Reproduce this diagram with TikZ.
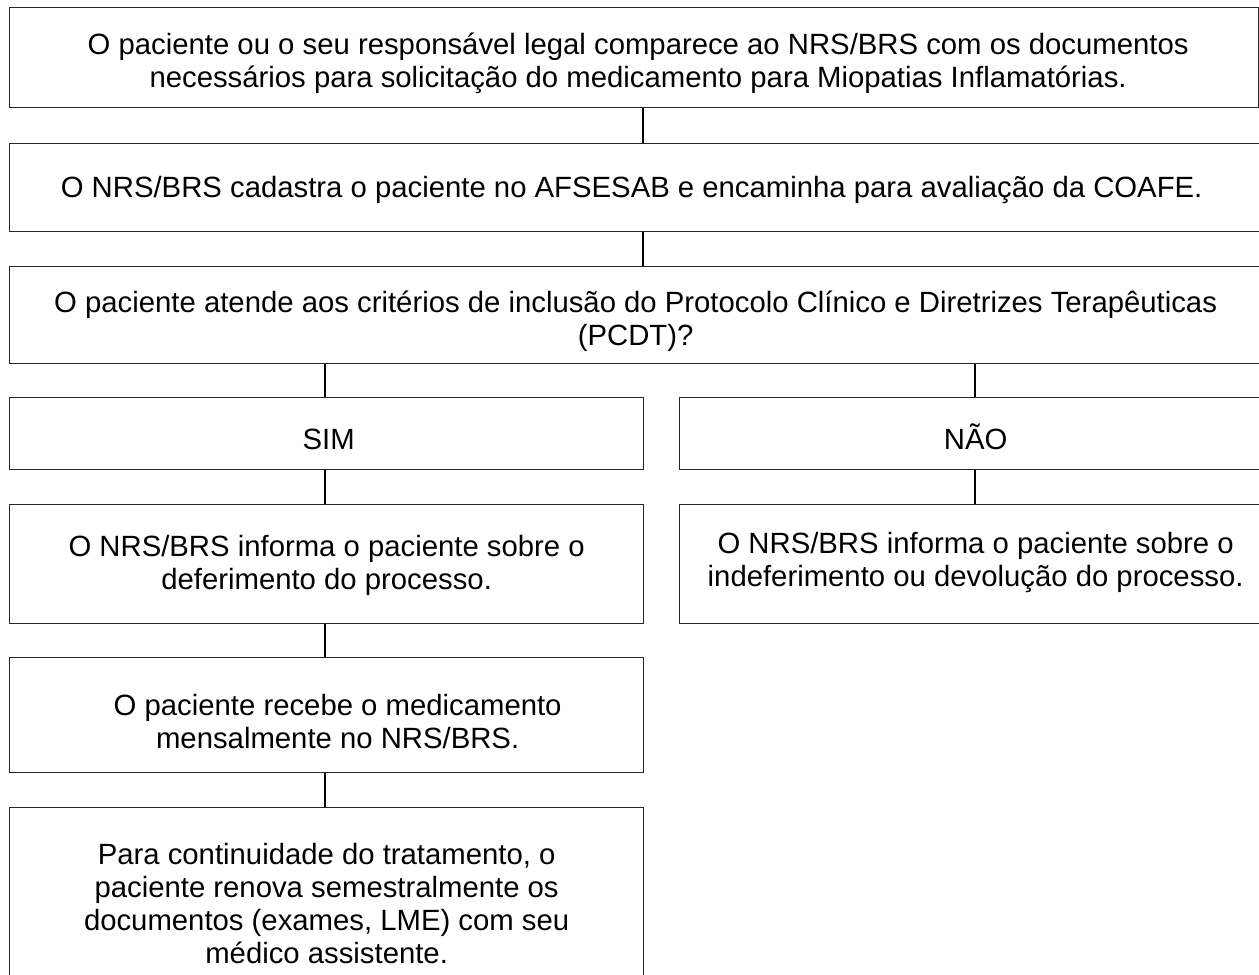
\documentclass[tikz,border=0pt]{standalone}
\usepackage{fontspec}
\setmainfont{Liberation Sans}
\begin{document}
\begin{tikzpicture}[x=1pt,y=-1pt,
  box/.style={draw=black!85, line width=1.3pt, anchor=north west, inner sep=0pt},
  txt/.style={align=center, inner sep=0pt, font=\fontsize{29.3}{33}\selectfont},
  conn/.style={draw=black, line width=1.5pt}]
\useasboundingbox (0,0) rectangle (1259,975);
\node[box, minimum width=1249pt, minimum height=100pt] (b1) at (9,7) {};
\node[box, minimum width=1252pt, minimum height=88pt] (b2) at (9,143) {};
\node[box, minimum width=1252pt, minimum height=97pt] (b3) at (9,266) {};
\node[box, minimum width=634pt, minimum height=72pt] (sim) at (9,397) {};
\node[box, minimum width=592pt, minimum height=72pt] (nao) at (679,397) {};
\node[box, minimum width=634pt, minimum height=119pt] (def) at (9,504) {};
\node[box, minimum width=592pt, minimum height=119pt] (ind) at (679,504) {};
\node[box, minimum width=634pt, minimum height=115pt] (rec) at (9,657) {};
\node[box, minimum width=634pt, minimum height=186pt] (para) at (9,807) {};
\node[txt] (t1) at ([xshift=4pt,yshift=-6pt]b1.center)
  {O paciente ou o seu responsável legal comparece ao NRS/BRS com os documentos\\necessários para solicitação do medicamento para Miopatias Inflamatórias.};
\node[txt] (t2) at ([xshift=-4pt,yshift=-2.5pt]b2.center)
  {O NRS/BRS cadastra o paciente no AFSESAB e encaminha para avaliação da COAFE.};
\node[txt] (t3) at ([yshift=-6pt]b3.center)
  {O paciente atende aos critérios de inclusão do Protocolo Clínico e Diretrizes Terapêuticas\\(PCDT)?};
\node[txt] (tsim) at ([xshift=2pt,yshift=-5.5pt]sim.center) {SIM};
\node[txt] (tnao) at ([yshift=-3pt]nao.center) {NÃO};
\node[txt] (tdef) at ([yshift=-1pt]def.center)
  {O NRS/BRS informa o paciente sobre o\\deferimento do processo.};
\node[txt] (tind) at ([yshift=2pt]ind.center)
  {O NRS/BRS informa o paciente sobre o\\indeferimento ou devolução do processo.};
\node[txt] (trec) at ([xshift=11pt,yshift=-6pt]rec.center)
  {O paciente recebe o medicamento\\mensalmente no NRS/BRS.};
\node[txt] (tpara) at ([yshift=-3pt]para.center)
  {Para continuidade do tratamento, o\\paciente renova semestralmente os\\documentos (exames, LME) com seu\\médico assistente.};
\draw[conn] (b1.south -| 643,0) -- (b2.north -| 643,0);
\draw[conn] (b2.south -| 643,0) -- (b3.north -| 643,0);
\draw[conn] (b3.south -| 325,0) -- (sim.north -| 325,0);
\draw[conn] (b3.south -| 975,0) -- (nao.north -| 975,0);
\draw[conn] (sim.south -| 325,0) -- (def.north -| 325,0);
\draw[conn] (nao.south -| 975,0) -- (ind.north -| 975,0);
\draw[conn] (def.south -| 325,0) -- (rec.north -| 325,0);
\draw[conn] (rec.south -| 325,0) -- (para.north -| 325,0);
\end{tikzpicture}
\end{document}
